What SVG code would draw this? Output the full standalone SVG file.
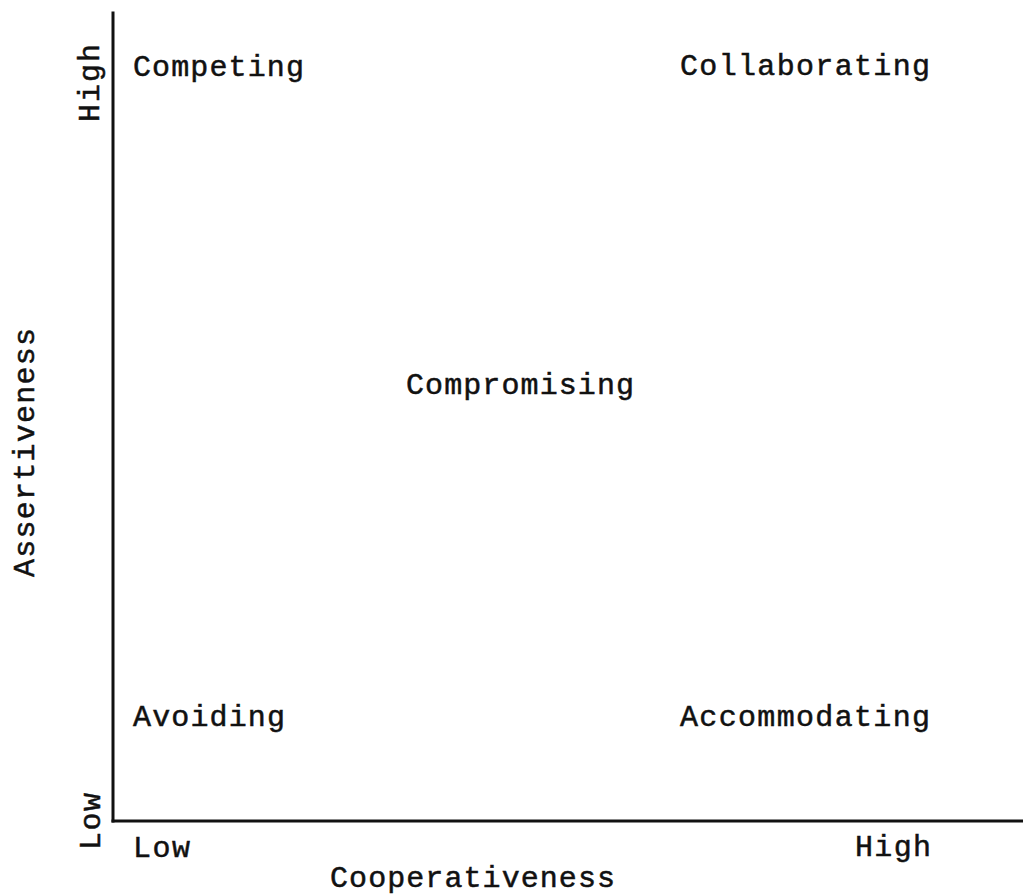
<svg xmlns="http://www.w3.org/2000/svg" width="1023" height="896" viewBox="0 0 1023 896">
  <style>
    .axis { stroke: #111; stroke-width: 3; fill: none; stroke-linecap: square; }
    .lbl { font-family: "Liberation Mono", "DejaVu Sans Mono", monospace; font-size: 30px; fill: #111; stroke: #111; stroke-width: 0.5; }
  </style>
  <rect width="1023" height="896" fill="#ffffff"/>

  <!-- axes -->
  <g id="connectors">
    <line class="axis" x1="113" y1="13" x2="113" y2="821"/>
    <line class="axis" x1="113" y1="821" x2="1023" y2="821"/>
  </g>

  <!-- axis labels -->
  <g id="axis-x">
    <text class="lbl" x="133" y="857" textLength="57">Low</text>
    <text class="lbl" x="855" y="856" textLength="76">High</text>
    <text class="lbl" x="330" y="887" textLength="285">Cooperativeness</text>
  </g>
  <g id="axis-y">
    <text class="lbl" transform="translate(100,850) rotate(-90)" x="0" y="0" textLength="57">Low</text>
    <text class="lbl" transform="translate(99,122) rotate(-90)" x="0" y="0" textLength="78">High</text>
    <text class="lbl" transform="translate(34,577) rotate(-90)" x="0" y="0" textLength="249">Assertiveness</text>
  </g>

  <!-- conflict modes -->
  <g id="competing"><text class="lbl" x="133" y="76" textLength="171">Competing</text></g>
  <g id="collaborating"><text class="lbl" x="680" y="75" textLength="250">Collaborating</text></g>
  <g id="compromising"><text class="lbl" x="406" y="394" textLength="228">Compromising</text></g>
  <g id="avoiding"><text class="lbl" x="133" y="726" textLength="152">Avoiding</text></g>
  <g id="accommodating"><text class="lbl" x="680" y="726" textLength="250">Accommodating</text></g>
</svg>
